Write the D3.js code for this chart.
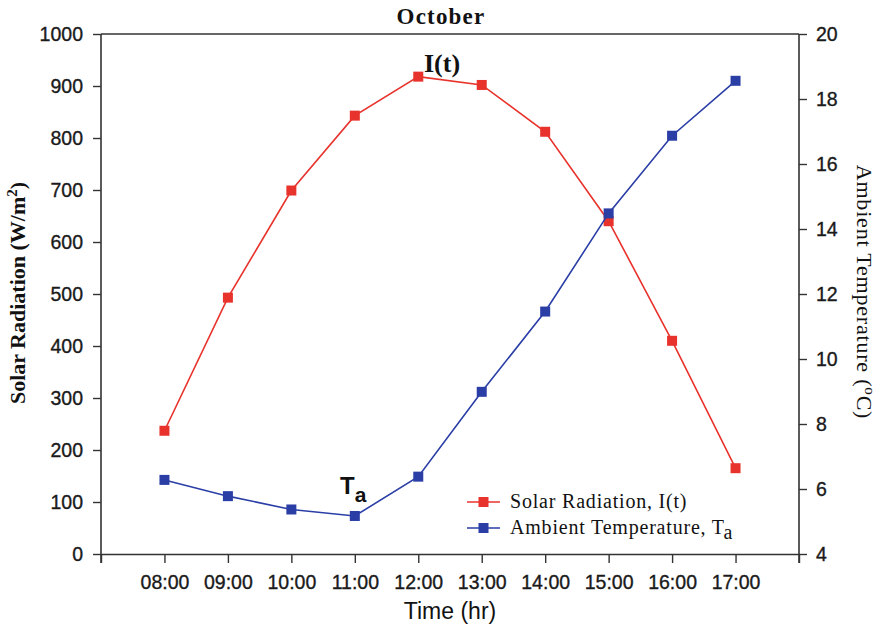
<!DOCTYPE html>
<html>
<head>
<meta charset="utf-8">
<script src="https://cdn.jsdelivr.net/npm/d3@7"></script>
<style>
  html, body { margin: 0; padding: 0; background: #fff; }
  svg { display: block; }
</style>
</head>
<body>
<svg id="chart" width="882" height="630"></svg>
<script>
// Hourly readings for October
const hours = ["08:00", "09:00", "10:00", "11:00", "12:00", "13:00", "14:00", "15:00", "16:00", "17:00"];
const solarRadiation = [237, 493, 699, 843, 918, 902, 812, 640, 410, 165];   // W/m²
const ambientTemp = [6.28, 5.78, 5.37, 5.17, 6.38, 8.99, 11.46, 14.48, 16.87, 18.56]; // °C
const leftTicks = [0, 100, 200, 300, 400, 500, 600, 700, 800, 900, 1000];
const rightTicks = [4, 6, 8, 10, 12, 14, 16, 18, 20];

const svg = d3.select("#chart");
const m = { left: 101, right: 799, top: 34, bottom: 554 };

// x: one slot per hour, with an empty slot padding each side
const x = d3.scaleLinear().domain([-1, hours.length]).range([m.left, m.right]);
const yL = d3.scaleLinear().domain([0, 1000]).range([m.bottom, m.top]);
const yR = d3.scaleLinear().domain([4, 20]).range([m.bottom, m.top]);

const axisColor = "#333";
const labelFont = "'Liberation Sans', Arial, sans-serif";
const serifFont = "'Liberation Serif', 'Times New Roman', serif";

// frame
svg.append("line").attr("x1", m.left).attr("x2", m.right).attr("y1", m.top).attr("y2", m.top)
  .attr("stroke", axisColor).attr("stroke-width", 1.6);

// left axis
const gL = svg.append("g").attr("transform", `translate(${m.left},0)`)
  .call(d3.axisLeft(yL).tickValues(leftTicks).tickFormat(d3.format("d"))
    .tickSize(8).tickPadding(10).tickSizeOuter(0));
// right axis
const gR = svg.append("g").attr("transform", `translate(${m.right},0)`)
  .call(d3.axisRight(yR).tickValues(rightTicks).tickFormat(d3.format("d"))
    .tickSize(8).tickPadding(9).tickSizeOuter(0));
// bottom axis, with ticks at both frame corners
const xTickVals = d3.range(-1, hours.length + 1);
const gB = svg.append("g").attr("transform", `translate(0,${m.bottom})`)
  .call(d3.axisBottom(x).tickValues(xTickVals).tickSize(9).tickPadding(12).tickSizeOuter(0)
    .tickFormat(i => (i >= 0 && i < hours.length) ? hours[i] : ""));

[gL, gR, gB].forEach(g => {
  g.select(".domain").attr("stroke", axisColor).attr("stroke-width", 1.6);
  g.selectAll(".tick line").attr("stroke", axisColor).attr("stroke-width", 1.4);
  g.selectAll(".tick text").attr("fill", "#1a1a1a").attr("stroke", "#1a1a1a")
    .attr("stroke-width", 0.35).style("font-family", labelFont).style("font-size", "19.5px");
});
gL.select(".domain").attr("d", `M0,${m.top}V${m.bottom + 9}`);
gR.select(".domain").attr("d", `M0,${m.top}V${m.bottom + 9}`);

// series lines and square markers
const series = [
  { values: solarRadiation, y: yL, color: "#e8322c" },
  { values: ambientTemp, y: yR, color: "#2a3ea6" }
];
series.forEach(s => {
  const line = d3.line().x((d, i) => x(i)).y(d => s.y(d));
  svg.append("path").datum(s.values).attr("d", line)
    .attr("fill", "none").attr("stroke", s.color).attr("stroke-width", 1.6);
  svg.append("g").selectAll("rect").data(s.values).join("rect")
    .attr("x", (d, i) => x(i) - 5).attr("y", d => s.y(d) - 5)
    .attr("width", 10).attr("height", 10).attr("fill", s.color);
});

// title
svg.append("text").attr("x", 441).attr("y", 24).attr("text-anchor", "middle")
  .style("font-family", serifFont).style("font-weight", "bold").style("font-size", "23px")
  .style("letter-spacing", "1.2px").attr("fill", "#111").text("October");

// axis titles
const lt = svg.append("text").attr("transform", "translate(25,293) rotate(-90)")
  .attr("text-anchor", "middle").style("font-family", serifFont).style("font-weight", "bold")
  .style("font-size", "22px").attr("fill", "#111");
lt.append("tspan").text("Solar Radiation (W/m");
lt.append("tspan").attr("dy", -8).style("font-size", "15px").text("2");
lt.append("tspan").attr("dy", 8).text(")");

const rt = svg.append("text").attr("transform", "translate(857,292) rotate(90)")
  .attr("text-anchor", "middle").style("font-family", serifFont)
  .style("font-size", "22px").style("letter-spacing", "0.8px").attr("fill", "#111");
rt.append("tspan").text("Ambient Temperature (");
rt.append("tspan").attr("dy", -8).style("font-size", "15px").text("o");
rt.append("tspan").attr("dy", 8).text("C)");

svg.append("text").attr("x", 450).attr("y", 619).attr("text-anchor", "middle")
  .style("font-family", labelFont).style("font-size", "23px").attr("fill", "#111")
  .text("Time (hr)");

// curve annotations
svg.append("text").attr("x", 424).attr("y", 72)
  .style("font-family", serifFont).style("font-weight", "bold").style("font-size", "26px")
  .attr("fill", "#111").text("I(t)");
const ta = svg.append("text").attr("x", 340).attr("y", 494)
  .style("font-family", labelFont).style("font-weight", "bold").style("font-size", "24px")
  .attr("fill", "#111");
ta.append("tspan").text("T");
ta.append("tspan").attr("dy", 8).style("font-size", "21px").text("a");

// legend
const legend = svg.append("g").attr("transform", "translate(467,0)");
const legendItems = [
  { color: "#e8322c", y: 502, label: ["Solar Radiation, I(t)"] },
  { color: "#2a3ea6", y: 528, label: ["Ambient Temperature, T", "a"] }
];
legendItems.forEach(it => {
  legend.append("line").attr("x1", 0).attr("x2", 33).attr("y1", it.y).attr("y2", it.y)
    .attr("stroke", it.color).attr("stroke-width", 1.6);
  legend.append("rect").attr("x", 11.5).attr("y", it.y - 5).attr("width", 10).attr("height", 10)
    .attr("fill", it.color);
  const t = legend.append("text").attr("x", 43).attr("y", it.y + 6)
    .style("font-family", serifFont).style("font-size", "20px").style("letter-spacing", "0.8px")
    .attr("fill", "#111");
  t.append("tspan").text(it.label[0]);
  if (it.label[1]) t.append("tspan").attr("dy", 5).text(it.label[1]);
});
</script>
</body>
</html>
